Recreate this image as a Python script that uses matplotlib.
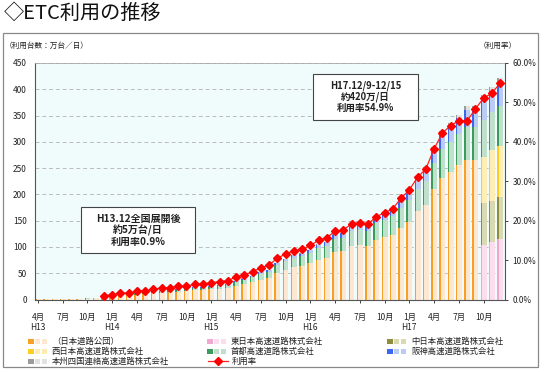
import matplotlib
matplotlib.use('Agg')
import matplotlib.pyplot as plt
from matplotlib.patches import Rectangle
from matplotlib.lines import Line2D
import numpy as np

plt.rcParams['font.family'] = ['Noto Sans CJK JP', 'DejaVu Sans']

# months from H13.4 (index 0) to H17.12 (index 56)
n_months = 57
tick_idx = list(range(0, 55, 3))
tick_names = ['4月', '7月', '10月',
              '1月', '4月', '7月', '10月',
              '1月', '4月', '7月', '10月',
              '1月', '4月', '7月', '10月',
              '1月', '4月', '7月', '10月']
year_idx = [0, 9, 21, 33, 45]
year_names = ['H13', 'H14', 'H15', 'H16', 'H17']

# 万台/日
jh = [1.0, 1.2, 1.3, 1.5, 1.6, 1.8, 1.6, 2.0, 4.0, 5.5,
      7.0, 7.8, 9.3, 10, 11.5, 13, 13.6, 15, 15.7, 17.2,
      17.8, 19.2, 20.6, 22, 26.5, 29.4, 33, 38, 41.6, 51,
      57, 62, 64, 69, 76, 79.5, 89.5, 91.5, 101, 103,
      102, 113, 118, 123, 136, 148, 168, 180, 210, 232,
      243, 255, 265, 265, 0, 0, 0]
shuto = [0, 0, 0, 0, 0, 0, 0.4, 0.5, 0.8, 1.2,
         1.6, 1.8, 2.2, 2.4, 2.8, 3.2, 3.5, 4, 4.2, 4.6,
         4.8, 5.2, 5.7, 6.1, 7.3, 8.1, 9.2, 10.6, 11.6, 14.3,
         16, 17.4, 18, 19.5, 21.5, 22.5, 25.5, 26, 28.5, 29,
         29, 32, 34, 35.5, 38, 41, 43, 46, 50, 54,
         57, 59, 63, 63, 70, 71, 76]
hanshin = [0, 0, 0, 0, 0, 0, 0, 0, 0.2, 0.3,
           0.4, 0.4, 0.5, 0.6, 0.7, 0.8, 0.9, 1, 1.1, 1.2,
           1.2, 1.4, 1.5, 1.6, 1.9, 2.1, 2.4, 2.9, 3.2, 4,
           4.3, 4.8, 5.2, 5.6, 6.5, 7, 8, 8.3, 9.2, 9.6,
           9.6, 10.5, 11.3, 11.7, 16, 18, 20, 22, 25, 28,
           30, 32, 33, 33, 40, 41, 44]
honshi = [0, 0, 0, 0, 0, 0, 0, 0, 0, 0,
          0, 0, 0, 0, 0, 0, 0, 0, 0, 0,
          0.2, 0.2, 0.2, 0.3, 0.3, 0.4, 0.4, 0.5, 0.6, 0.7,
          0.7, 0.8, 0.8, 0.9, 1.0, 1.0, 1.0, 1.2, 1.3, 1.4,
          1.4, 1.5, 1.7, 1.8, 3, 3, 4, 4, 5, 6,
          6, 6, 7, 7, 8, 8, 9]
higashi = [0] * 54 + [104, 110, 115]
naka = [0] * 54 + [80, 78, 80]
nishi = [0] * 54 + [88, 97, 97]

# 利用率 (%), from H13.12
rate_idx = list(range(8, 57))
rate = [0.9, 1.2, 1.6, 1.7, 2.1, 2.2, 2.6, 2.9, 3.0, 3.4,
        3.4, 3.9, 3.9, 4.3, 4.5, 4.8, 5.7, 6.3, 7.0, 8.1,
        8.7, 10.5, 11.5, 12.4, 12.7, 13.7, 15.0, 15.7, 17.3, 17.6,
        19.2, 19.5, 19.2, 21.0, 22.0, 23.0, 25.7, 27.8, 31.0, 33.1,
        38.2, 42.2, 44.1, 45.3, 45.3, 48.3, 51.1, 52.3, 54.9]

series = [
    ('東日本高速道路株式会社', higashi, '#F2A6D2', '#FBDDEE'),
    ('中日本高速道路株式会社', naka, '#8E8E3A', '#D9D9B2'),
    ('西日本高速道路株式会社', nishi, '#FFCC22', '#FFEEB3'),
    ('（日本道路公団）', jh, '#F7A024', '#FEE7D0'),
    ('首都高速道路株式会社', shuto, '#3C9A5C', '#BFE0CA'),
    ('阪神高速道路株式会社', hanshin, '#3A66F0', '#BACBF6'),
    ('本州四国連絡高速道路株式会社', honshi, '#9C9C9C', '#E2E2E2'),
]

W, H = 547, 372
fig = plt.figure(figsize=(W / 100, H / 100), dpi=100)
fig.patch.set_facecolor('white')

ax = fig.add_axes([35 / W, 1 - 299.5 / H, 470 / W, 236.5 / H])
ax.set_facecolor('#F0FCFC')
x = np.arange(n_months)
bottom = np.zeros(n_months)
bw = 0.72
for name, vals, dark, light in series:
    v = np.array(vals, dtype=float)
    ax.bar(x - bw / 2, v, width=bw, bottom=bottom, align='edge', color=light, linewidth=0, zorder=2)
    ax.bar(x - bw / 2, v, width=bw * 0.28, bottom=bottom, align='edge', color=dark, linewidth=0, zorder=2)
    bottom += v

ax.set_xlim(-0.36, 56.6)
ax.set_ylim(0, 450)
ax.set_yticks(range(0, 451, 50))
ax.yaxis.grid(True, color='#BBBBBB', linestyle=(0, (4, 3)), linewidth=0.7)
ax.set_axisbelow(True)
ax.tick_params(axis='y', length=0, labelsize=6, colors='#222222', pad=6)
ax.set_xticks(tick_idx)
ax.set_xticklabels(tick_names)
ax.tick_params(axis='x', length=2.5, width=0.6, labelsize=6, colors='#222222', pad=7)
for i, name in zip(year_idx, year_names):
    ax.text(i, -0.12, name, transform=ax.get_xaxis_transform(), ha='center', va='center',
            fontsize=6, color='#222222')
for s in ['left', 'bottom']:
    ax.spines[s].set_color('#555555')
    ax.spines[s].set_linewidth(0.8)
ax.spines['top'].set_color('#AAAAAA')
ax.spines['top'].set_linewidth(0.6)
ax.spines['right'].set_visible(False)

ax2 = ax.twinx()
ax2.set_ylim(0, 60)
ax2.set_yticks(range(0, 61, 10))
ax2.set_yticklabels([f'{t:.1f}%' for t in range(0, 61, 10)])
ax2.tick_params(axis='y', length=2.5, width=0.6, labelsize=6, colors='#222222', pad=3)
ax2.spines['right'].set_color('#555555')
ax2.spines['right'].set_linewidth(0.8)
for s in ['left', 'top', 'bottom']:
    ax2.spines[s].set_visible(False)
ax2.plot(rate_idx, rate, color='#FF2020', linewidth=0.9, marker='D', markersize=3.8,
         markerfacecolor='#FF0000', markeredgecolor='#FF0000', zorder=5)

# annotation boxes
fig.add_artist(Rectangle((81 / W, 1 - 253 / H), 114 / W, 46 / H, transform=fig.transFigure,
                         facecolor='white', edgecolor='#444444', linewidth=0.8))
fig.text(138 / W, 1 - 230.5 / H, 'H13.12全国展開後\n約5万台/日\n利用率0.9%', ha='center', va='center',
         fontsize=7.2, fontweight='bold', color='#222222', linespacing=1.1)
fig.add_artist(Rectangle((313 / W, 1 - 120 / H), 105 / W, 46 / H, transform=fig.transFigure,
                         facecolor='white', edgecolor='#444444', linewidth=0.8))
fig.text(365.5 / W, 1 - 96.5 / H, 'H17.12/9-12/15\n約420万/日\n利用率54.9%', ha='center', va='center',
         fontsize=6.8, fontweight='bold', color='#222222', linespacing=1.1)

# titles
fig.text(4 / W, 1 - 13 / H, '◇ETC利用の推移', ha='left', va='center', fontsize=14.5, color='#111111')
fig.text(5 / W, 1 - 46 / H, '（利用台数：万台／日）', ha='left', va='center', fontsize=5.5, color='#222222')
fig.text(498 / W, 1 - 46 / H, '（利用率）', ha='center', va='center', fontsize=5.5, color='#222222')

# frame
fig.add_artist(Rectangle((2.7 / W, 1 - 366.7 / H), 535.3 / W, 334 / H, transform=fig.transFigure,
                         fill=False, edgecolor='#888888', linewidth=0.9))

# legend
legend_pos = [
    ('（日本道路公団）', 28, 341.7), ('西日本高速道路株式会社', 28, 351.7),
    ('本州四国連絡高速道路株式会社', 28, 361.2),
    ('東日本高速道路株式会社', 207, 341.7), ('首都高速道路株式会社', 207, 351.7),
    ('中日本高速道路株式会社', 387, 341.7), ('阪神高速道路株式会社', 387, 351.7),
]
colors = {name: (dark, light) for name, vals, dark, light in series}
for name, px, py in legend_pos:
    dark, light = colors[name]
    for k, (c, w) in enumerate([(dark, 7), (light, 6), (light, 6)]):
        x0 = px + [0, 7, 14][k]
        fig.add_artist(Rectangle((x0 / W, 1 - (py + 2.5) / H), (w - 1.5) / W, 5 / H,
                                 transform=fig.transFigure, facecolor=c, edgecolor='none'))
    fig.text((px + 24) / W, 1 - py / H, name, ha='left', va='center', fontsize=6, color='#222222')
fig.add_artist(Line2D([208 / W, 228 / W], [1 - 361.2 / H] * 2, transform=fig.transFigure,
                      color='#FF2020', linewidth=0.9))
fig.add_artist(Line2D([218 / W], [1 - 361.2 / H], transform=fig.transFigure, marker='D',
                      markersize=3.8, color='#FF0000'))
fig.text(232 / W, 1 - 361.2 / H, '利用率', ha='left', va='center', fontsize=6, color='#222222')

fig.savefig('out.png', dpi=100)
